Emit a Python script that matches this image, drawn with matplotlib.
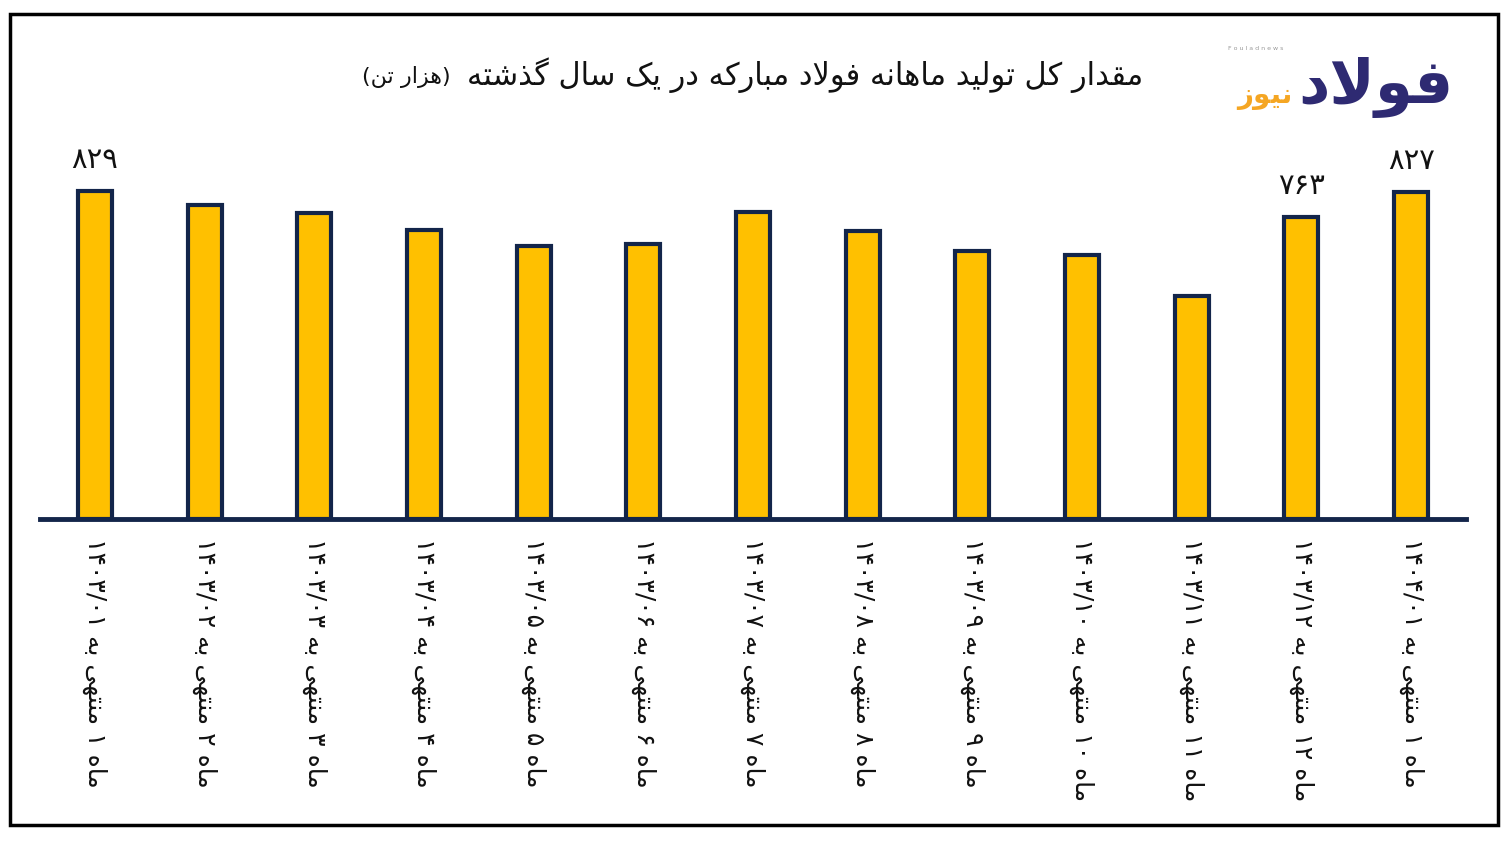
import matplotlib.pyplot as plt
from matplotlib.patches import Rectangle

# monthly totals, thousand tonnes
months = ['۱۴۰۳/۰۱', '۱۴۰۳/۰۲', '۱۴۰۳/۰۳', '۱۴۰۳/۰۴', '۱۴۰۳/۰۵', '۱۴۰۳/۰۶', '۱۴۰۳/۰۷',
          '۱۴۰۳/۰۸', '۱۴۰۳/۰۹', '۱۴۰۳/۱۰', '۱۴۰۳/۱۱', '۱۴۰۳/۱۲', '۱۴۰۴/۰۱']
month_no = ['۱', '۲', '۳', '۴', '۵', '۶', '۷', '۸', '۹', '۱۰', '۱۱', '۱۲', '۱']
production = [829, 793, 773, 730, 690, 695, 776, 728, 677, 667, 564, 763, 827]
labelled = {0: '۸۲۹', 11: '۷۶۳', 12: '۸۲۷'}

title_main = 'مقدار کل تولید ماهانه فولاد مبارکه در یک سال گذشته'
title_unit = 'هزار تن'

# contextual forms: isolated, final, initial, medial (None = does not join forward)
FORMS = {
    'ا': ('\uFE8D', '\uFE8E', None, None),
    'ب': ('\uFE8F', '\uFE90', '\uFE91', '\uFE92'),
    'ت': ('\uFE95', '\uFE96', '\uFE97', '\uFE98'),
    'د': ('\uFEA9', '\uFEAA', None, None),
    'ذ': ('\uFEAB', '\uFEAC', None, None),
    'ر': ('\uFEAD', '\uFEAE', None, None),
    'ز': ('\uFEAF', '\uFEB0', None, None),
    'س': ('\uFEB1', '\uFEB2', '\uFEB3', '\uFEB4'),
    'ش': ('\uFEB5', '\uFEB6', '\uFEB7', '\uFEB8'),
    'ف': ('\uFED1', '\uFED2', '\uFED3', '\uFED4'),
    'ق': ('\uFED5', '\uFED6', '\uFED7', '\uFED8'),
    'ل': ('\uFEDD', '\uFEDE', '\uFEDF', '\uFEE0'),
    'م': ('\uFEE1', '\uFEE2', '\uFEE3', '\uFEE4'),
    'ن': ('\uFEE5', '\uFEE6', '\uFEE7', '\uFEE8'),
    'ه': ('\uFEE9', '\uFEEA', '\uFEEB', '\uFEEC'),
    'و': ('\uFEED', '\uFEEE', None, None),
    'ک': ('\uFB8E', '\uFB8F', '\uFB90', '\uFB91'),
    'گ': ('\uFB92', '\uFB93', '\uFB94', '\uFB95'),
    'ی': ('\uFBFC', '\uFBFD', '\uFBFE', '\uFBFF'),
}
DIGITS = set('۰۱۲۳۴۵۶۷۸۹0123456789/')


def joins_forward(ch):
    return ch in FORMS and FORMS[ch][2] is not None


def fa(s):
    # shape letters
    out = []
    i = 0
    while i < len(s):
        ch = s[i]
        if ch not in FORMS:
            out.append(ch)
            i += 1
            continue
        prev_join = i > 0 and joins_forward(s[i - 1])
        if ch == 'ل' and i + 1 < len(s) and s[i + 1] == 'ا':
            out.append('\uFEFC' if prev_join else '\uFEFB')
            i += 2
            continue
        next_join = joins_forward(ch) and i + 1 < len(s) and s[i + 1] in FORMS
        iso, fin, ini, med = FORMS[ch]
        if prev_join and next_join:
            out.append(med)
        elif prev_join:
            out.append(fin)
        elif next_join:
            out.append(ini)
        else:
            out.append(iso)
        i += 1
    # visual order: reverse, keep number runs left to right
    rev = ''.join(out)[::-1]
    res, run = '', ''
    for ch in rev:
        if ch in DIGITS:
            run += ch
        else:
            res += run[::-1] + ch
            run = ''
    return res + run[::-1]


tick_labels = [fa('ماه ' + n + ' منتهی به ' + m) for n, m in zip(month_no, months)]

plt.rcParams['font.family'] = ['DejaVu Sans']
fig = plt.figure(figsize=(15.12, 8.42), dpi=100)
ax = fig.add_axes([40 / 1512, 1 - 519 / 842, 1426 / 1512, 389 / 842])

x = range(len(production))
ax.bar(x, production, width=0.31, color='#FFC000', edgecolor='#13254A', linewidth=3, zorder=2)
ax.set_xlim(-0.5, len(production) - 0.5)
ax.set_ylim(0, 983)

for idx, txt in labelled.items():
    ax.annotate(fa(txt), (idx, production[idx]), xytext=(0, 12), textcoords='offset points',
                ha='center', va='bottom', fontsize=21, color='#111111')

for side in ['top', 'right', 'left']:
    ax.spines[side].set_visible(False)
ax.spines['bottom'].set_color('#13254A')
ax.spines['bottom'].set_linewidth(3.5)
ax.set_yticks([])
ax.set_xticks(list(x))
ax.set_xticklabels(tick_labels, rotation=270, ha='center', va='top', fontsize=18, color='#111111')
ax.tick_params(axis='x', length=0, pad=14)

# title
fig.text(1143 / 1512, 1 - 75 / 842, fa(title_main), ha='right', va='center', fontsize=22, color='#111111')
fig.text(451 / 1512, 1 - 77 / 842, '(' + fa(title_unit) + ')', ha='right', va='center',
         fontsize=16, color='#111111')

# logo
fig.text(1454 / 1512, 1 - 88 / 842, fa('فولاد'), ha='right', va='center', fontsize=44,
         fontweight='bold', color='#2E2A72')
fig.text(1292 / 1512, 1 - 96 / 842, fa('نیوز'), ha='right', va='center', fontsize=20,
         fontweight='bold', color='#F5A623')
fig.text(1228 / 1512, 1 - 48 / 842, 'F o u l a d n e w s', ha='left', va='center', fontsize=4.5,
         color='#999999')

# frame around the figure
fig.patches.append(Rectangle((9.5 / 1512, 1 - 825 / 842), 1488 / 1512, 811 / 842,
                             transform=fig.transFigure, fill=False, edgecolor='black',
                             linewidth=2.5, zorder=10))

fig.savefig('out.png', dpi=100, facecolor='white')
